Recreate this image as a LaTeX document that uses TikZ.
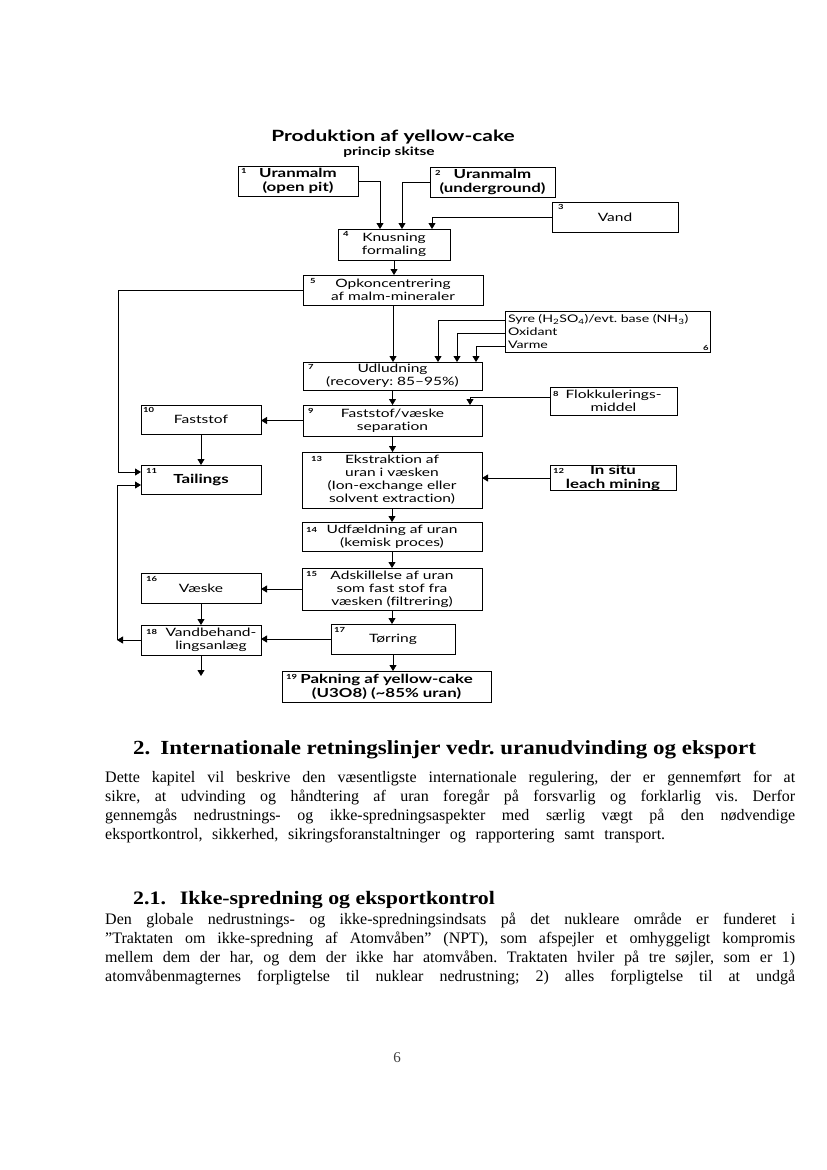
\documentclass[tikz,border=0pt]{standalone}
\usepackage{fontspec}
\setmainfont{Liberation Serif}
\newfontfamily\headfont{Liberation Serif}[FakeStretch=1.15]
\newfontfamily\diag{Lato}[FakeStretch=1.35,Ligatures={NoCommon,TeX}]
\usetikzlibrary{arrows.meta}
\frenchspacing
\tikzset{
  box/.style={draw, line width=0.8pt, inner sep=0pt, outer sep=0pt, align=center,
    font=\diag\fontsize{11.5}{13}\selectfont},
  bbox/.style={box, font=\diag\bfseries\fontsize{12.5}{14}\selectfont},
  num/.style={font=\diag\bfseries\fontsize{7}{8}\selectfont, inner sep=0pt, anchor=north west},
  numw/.style={font=\diag\bfseries\fontsize{7}{8}\selectfont, inner sep=0pt, anchor=west},
  arr/.style={-{Triangle[width=7pt,length=6pt]}, line width=0.8pt},
  body/.style={anchor=west, inner sep=0pt, font=\fontsize{16}{19}\selectfont, text height=11pt, text depth=3.5pt},
  head/.style={anchor=west, inner sep=0pt, font=\headfont\bfseries\fontsize{20}{23}\selectfont},
}
\newcommand\bx[7]{\node[#6, minimum width={(#4-#2)*1pt}, minimum height={(#5-#3)*1pt}] (#1) at ({(#2+#4)/2},{(#3+#5)/2}) {#7};}
\begin{document}
\begin{tikzpicture}[x=1pt,y=-1pt]
\useasboundingbox[fill=white] (0,0) rectangle (827,1170);
% title
\node[inner sep=0pt, font=\diag\bfseries\fontsize{15.5}{17}\selectfont] (title) at (393,137) {Produktion af yellow-cake};
\node[inner sep=0pt, font=\diag\bfseries\fontsize{11.5}{13}\selectfont] (subtitle) at (389,152) {princip skitse};
% boxes
\bx{b1}{238}{166}{358}{196}{bbox}{Uranmalm\\(open pit)}
\bx{b2}{430}{167}{555}{197}{bbox}{Uranmalm\\(underground)}
\bx{b3}{552}{202}{678}{232}{box}{Vand}
\bx{b4}{338}{229}{450}{260}{box}{Knusning\\formaling}
\bx{b5}{303}{275}{483}{305}{box}{Opkoncentrering\\af malm-mineraler}
\bx{b6}{505}{311}{710}{352}{box,align=left,text width=199pt,font=\diag\fontsize{10.5}{13}\selectfont}{Syre (H\textsubscript{2}SO\textsubscript{4})/evt. base (NH\textsubscript{3})\\Oxidant\\Varme}
\bx{b7}{303}{362}{482}{390}{box}{Udludning\\(recovery: 85–95\%)}
\bx{b8}{550}{387}{677}{415}{box}{Flokkulerings-\\middel}
\bx{b9}{303}{405}{482}{436}{box}{Faststof/væske\\separation}
\bx{b10}{141}{405}{261}{434}{box}{Faststof}
\bx{b11}{141}{465}{261}{494}{bbox}{Tailings}
\bx{b12}{550}{466}{676}{490}{bbox}{In situ\\leach mining}
\bx{b13}{302}{452}{482}{508}{box}{Ekstraktion af\\uran i væsken\\(Ion-exchange eller\\solvent extraction)}
\bx{b14}{302}{522}{482}{551}{box}{Udfældning af uran\\(kemisk proces)}
\bx{b15}{302}{568}{482}{610}{box}{Adskillelse af uran\\som fast stof fra\\væsken (filtrering)}
\bx{b16}{141}{573}{261}{603}{box}{Væske}
\bx{b17}{331}{624}{455}{654}{box}{Tørring}
\bx{b18}{141}{625}{261}{655}{box}{}
\node[inner sep=0pt, align=center, font=\diag\fontsize{11.5}{13}\selectfont] (t18) at (211,640) {Vandbehand-\\lingsanlæg};
\bx{b19}{282}{671}{491}{702}{bbox}{Pakning af yellow-cake\\(U3O8) (\textasciitilde85\% uran)}
% numbers
\node[num] (n1) at (241,168) {1};
\node[num] (n2) at (435,170) {2};
\node[num] (n3) at (558,204) {3};
\node[num] (n4) at (343,231) {4};
\node[num] (n5) at (310,278) {5};
\node[num] (n6) at (703,345) {6};
\node[num] (n7) at (308,364) {7};
\node[numw] (n8) at (553,394) {8};
\node[num] (n9) at (308,408) {9};
\node[num] (n10) at (143,407) {10};
\node[num] (n11) at (146,468) {11};
\node[num] (n12) at (553,468) {12};
\node[num] (n13) at (311,456) {13};
\node[numw] (n14) at (306,530) {14};
\node[num] (n15) at (306,571) {15};
\node[num] (n16) at (146,576) {16};
\node[num] (n17) at (334,627) {17};
\node[numw] (n18) at (146,632) {18};
\node[numw] (n19) at (286,677) {19};
% coordinates
\coordinate (c6a) at (438,320);
\coordinate (c6b) at (457,333);
\coordinate (c6c) at (476,346);
\coordinate (c8) at (470,397);
\coordinate (c5) at (118,472);
\coordinate (c18) at (117,485);
\coordinate (e18) at (201,676);
% connectors
\draw[arr] (b1.east) -| ([xshift=-14pt]b4.north);
\draw[arr] (b2.west) -| ([xshift=8pt]b4.north);
\draw[arr] (b3.west) -| ([xshift=38pt]b4.north);
\draw[arr] (b4.south) -- (b4.south |- b5.north);
\draw[arr] (b5.south) -- (b5.south |- b7.north);
\draw[arr] (b6.west |- c6a) -| (c6a |- b7.north);
\draw[arr] (b6.west |- c6b) -| (c6b |- b7.north);
\draw[arr] (b6.west |- c6c) -| (c6c |- b7.north);
\draw[arr] (b7.south) -- (b7.south |- b9.north);
\draw[arr] (b8.west |- c8) -| (c8 |- b9.north);
\draw[arr] (b9.west) -- (b9.west -| b10.east);
\draw[arr] (b10.south) -- (b11.north);
\draw[arr] (b5.west) -| (c5) -- (c5 -| b11.west);
\draw[arr] (b9.south) -- (b9.south |- b13.north);
\draw[arr] (b12.west) -- (b12.west -| b13.east);
\draw[arr] (b13.south) -- (b13.south |- b14.north);
\draw[arr] (b14.south) -- (b14.south |- b15.north);
\draw[arr] (b15.west) -- (b15.west -| b16.east);
\draw[arr] (b16.south) -- (b18.north);
\draw[arr] (b15.south) -- (b15.south |- b17.north);
\draw[arr] (b17.west) -- (b17.west -| b18.east);
\draw[arr] (b17.south) -- (b17.south |- b19.north);
\draw[arr] (b18.west) -- (b18.west -| c18);
\draw[arr] (b18.west -| c18) -- (c18) -- (c18 -| b11.west);
\draw[arr] (b18.south) -- (e18);
% text
\node[head] (h2) at (133,750) {2.\hspace{10pt}Internationale retningslinjer vedr. uranudvinding og eksport};
\node[body] (p1) at (105,779) {\makebox[690pt][s]{Dette kapitel vil beskrive den væsentligste internationale regulering, der er gennemført for at}};
\node[body] (p2) at (105,798) {\makebox[690pt][s]{sikre, at udvinding og håndtering af uran foregår på forsvarlig og forklarlig vis. Derfor}};
\node[body] (p3) at (105,817) {\makebox[690pt][s]{gennemgås nedrustnings- og ikke-spredningsaspekter med særlig vægt på den nødvendige}};
\node[body] (p4) at (105,836) {\makebox[560pt][s]{eksportkontrol, sikkerhed, sikringsforanstaltninger og rapportering samt transport.}};
\node[head, font=\headfont\bfseries\fontsize{19}{22}\selectfont] (h21) at (133,900) {2.1.\hspace{14pt}Ikke-spredning og eksportkontrol};
\node[body] (q1) at (105,921) {\makebox[690pt][s]{Den globale nedrustnings- og ikke-spredningsindsats på det nukleare område er funderet i}};
\node[body] (q2) at (105,940) {\makebox[690pt][s]{”Traktaten om ikke-spredning af Atomvåben” (NPT), som afspejler et omhyggeligt kompromis}};
\node[body] (q3) at (105,959) {\makebox[690pt][s]{mellem dem der har, og dem der ikke har atomvåben. Traktaten hviler på tre søjler, som er 1)}};
\node[body] (q4) at (105,978) {\makebox[690pt][s]{atomvåbenmagternes forpligtelse til nuklear nedrustning; 2) alles forpligtelse til at undgå}};
\node[inner sep=0pt, font=\fontsize{15}{17}\selectfont, text=black!75] (pg) at (397,1058) {6};
\end{tikzpicture}
\end{document}
